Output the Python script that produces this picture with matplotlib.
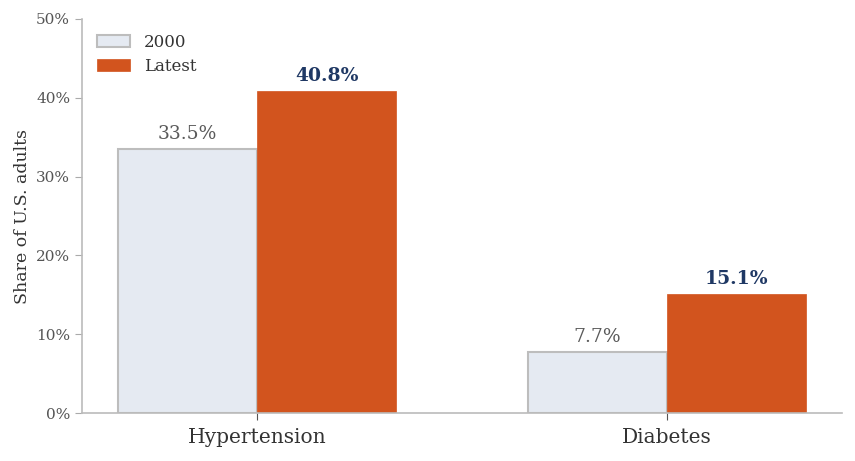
import matplotlib
matplotlib.use("Agg")
import matplotlib.pyplot as plt
import numpy as np
from matplotlib.ticker import FuncFormatter

categories = ["Hypertension", "Diabetes"]
series_names = ["2000", "Latest"]
vals_2000 = [33.5, 7.7]
vals_latest = [40.8, 15.1]
yticks = [0, 10, 20, 30, 40, 50]

plt.rcParams['font.family'] = ['DejaVu Serif']

fig = plt.figure(figsize=(8.55, 4.61), dpi=100)
ax = fig.add_axes([82/855, 1-413/461, (842-82)/855, (413-19)/461])

x = np.arange(len(categories))
w = 0.34
b1 = ax.bar(x - w/2, vals_2000, w, color="#e5eaf2", edgecolor="#bdbdbd", linewidth=1.5, label=series_names[0])
b2 = ax.bar(x + w/2, vals_latest, w, color="#d2541e", edgecolor="#d2541e", linewidth=0.5, label=series_names[1])

for r, v in zip(b1, vals_2000):
    ax.text(r.get_x() + r.get_width()/2, v + 0.8, f"{v:.1f}%", ha="center", va="bottom",
            fontsize=13.5, color="#5a5a5a")
for r, v in zip(b2, vals_latest):
    ax.text(r.get_x() + r.get_width()/2, v + 0.8, f"{v:.1f}%", ha="center", va="bottom",
            fontsize=13.5, color="#1f3864", fontweight="bold")

ax.set_xlim(-0.427, 1.427)
ax.set_ylim(0, 50)
ax.set_yticks(yticks)
ax.yaxis.set_major_formatter(FuncFormatter(lambda v, p: f"{v:.0f}%"))
ax.set_xticks(x)
ax.set_xticklabels(categories, fontsize=14.5, color="#333333")
ax.tick_params(axis="y", labelsize=11, colors="#555555", length=5, color="#aaaaaa")
ax.tick_params(axis="x", length=5, color="#555555", pad=6)
for lab in ax.get_yticklabels():
    lab.set_color("#555555")
ax.set_ylabel("Share of U.S. adults", fontsize=12.5, color="#333333")

for s in ["top", "right"]:
    ax.spines[s].set_visible(False)
for s in ["left", "bottom"]:
    ax.spines[s].set_color("#bbbbbb")
    ax.spines[s].set_linewidth(1.2)

leg = ax.legend(loc="upper left", frameon=False, fontsize=12,
                handlelength=2.0, labelcolor="#333333", labelspacing=0.4)

fig.savefig("out.png", dpi=100)
